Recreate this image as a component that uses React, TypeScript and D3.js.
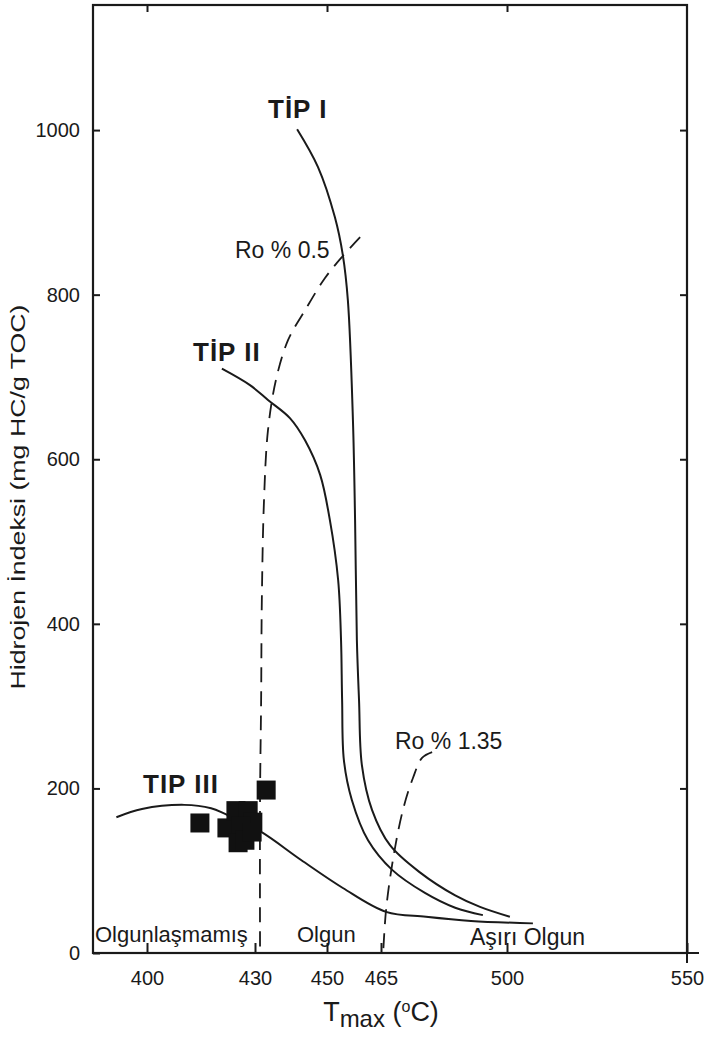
import React, { useEffect, useRef } from 'react';
import * as d3 from 'd3';

// axis ticks
const xTicks = [400, 430, 450, 465, 500, 550];
const yTicks = [0, 200, 400, 600, 800, 1000];
const topTicks = [400, 450, 500];
const rightTicks = [200, 400, 600, 800, 1000];

// kerogen type curves: [Tmax, HI]
const typeI: [number, number][] = [
  [441.7, 1001], [447.5, 955], [452.2, 894], [454.4, 848], [455.8, 793],
  [457.2, 648], [457.8, 526], [458.3, 380], [458.9, 307], [459.7, 228],
  [462.5, 174], [467.5, 131], [475.8, 98], [485.6, 70], [492.5, 56], [500.8, 44],
];
const typeII: [number, number][] = [
  [420.8, 710], [428.6, 690], [433.6, 672], [439.7, 650], [443.9, 623],
  [448.1, 581], [450.8, 526], [453.1, 453], [453.9, 380], [454.2, 307],
  [454.7, 234], [456.9, 186], [461.4, 137], [468.1, 101], [477.2, 73],
  [485.6, 55], [493.3, 46],
];
const typeIII: [number, number][] = [
  [391.5, 165], [398.6, 175], [410.3, 180], [417.8, 176], [421.7, 169],
  [431.4, 148], [442.8, 113], [454.4, 79], [466.4, 50], [477.5, 44],
  [490.0, 39], [507.2, 36],
];

// vitrinite reflectance iso-lines
const ro05: [number, number][] = [
  [459.2, 870], [454.4, 847], [449.4, 820], [443.9, 781], [439.2, 745],
  [435.8, 696], [433.6, 635], [432.5, 550], [431.9, 429], [431.7, 307],
  [431.4, 186], [431.4, 0],
];
const ro135: [number, number][] = [
  [479.2, 244], [476.4, 237], [473.9, 213], [471.1, 174], [468.3, 113],
  [466.4, 52], [465.6, 0],
];

// samples
const sampleTmax = [414.7, 433.1, 422.2, 424.7, 428.1, 429.4, 426.1, 425.3, 427.2, 429.2];
const sampleHI = [158, 198, 152, 173, 173, 159, 154, 134, 137, 147];

const font = "'Liberation Sans', Arial, Helvetica, sans-serif";
const ink = '#1a1a1a';

const App = () => {
  const ref = useRef<SVGSVGElement>(null);

  useEffect(() => {
    const svg = d3.select(ref.current);
    svg.selectAll('*').remove();

    const x = d3.scaleLinear().domain([385, 550]).range([93, 687]);
    const y = d3.scaleLinear().domain([0, 1152]).range([953, 5]);

    const g = svg.append('g').style('font-family', font);

    // left axis
    const left = g.append('g')
      .attr('transform', `translate(${x(385)},0)`)
      .call(d3.axisLeft(y).tickValues(yTicks).tickSize(-7).tickPadding(13).tickFormat(d3.format('d')));
    // bottom axis
    const bottom = g.append('g')
      .attr('transform', `translate(0,${y(0)})`)
      .call(d3.axisBottom(x).tickValues(xTicks).tickSize(-10).tickPadding(18).tickFormat(d3.format('d')));
    [left, bottom].forEach(a => {
      a.select('.domain').remove();
      a.selectAll('line').attr('stroke', ink).attr('stroke-width', 2);
      a.selectAll('text').attr('fill', ink).style('font-size', '20px').style('font-family', font);
    });
    // top & right inner ticks
    g.append('g')
      .attr('transform', `translate(0,${y(1152)})`)
      .call(d3.axisTop(x).tickValues(topTicks).tickSize(-7).tickFormat(() => ''))
      .call(a => a.select('.domain').remove())
      .selectAll('line').attr('stroke', ink).attr('stroke-width', 2);
    g.append('g')
      .attr('transform', `translate(${x(550)},0)`)
      .call(d3.axisRight(y).tickValues(rightTicks).tickSize(-7).tickFormat(() => ''))
      .call(a => a.select('.domain').remove())
      .selectAll('line').attr('stroke', ink).attr('stroke-width', 2);

    // frame
    g.append('rect')
      .attr('x', x(385)).attr('y', y(1152))
      .attr('width', x(550) - x(385)).attr('height', y(0) - y(1152))
      .attr('fill', 'none').attr('stroke', ink).attr('stroke-width', 2.2);
    // outer stub of the 550 tick and axis overhang
    g.append('line')
      .attr('x1', x(550)).attr('x2', x(550)).attr('y1', y(0)).attr('y2', y(0) + 10)
      .attr('stroke', ink).attr('stroke-width', 2);
    g.append('line')
      .attr('x1', x(550)).attr('x2', x(550) + 12).attr('y1', y(0)).attr('y2', y(0))
      .attr('stroke', ink).attr('stroke-width', 2);

    const line = d3.line<[number, number]>()
      .x(d => x(d[0]))
      .y(d => y(d[1]))
      .curve(d3.curveCatmullRom.alpha(0.5));

    [typeI, typeII, typeIII].forEach(c => {
      g.append('path').attr('d', line(c)).attr('fill', 'none')
        .attr('stroke', ink).attr('stroke-width', 2);
    });
    [ro05, ro135].forEach(c => {
      g.append('path').attr('d', line(c)).attr('fill', 'none')
        .attr('stroke', ink).attr('stroke-width', 1.8).attr('stroke-dasharray', '15,9');
    });

    // samples
    const size = 19;
    g.selectAll('.sample')
      .data(sampleTmax.map((t, i) => [t, sampleHI[i]]))
      .enter()
      .append('rect')
      .attr('class', 'sample')
      .attr('x', d => x(d[0]) - size / 2)
      .attr('y', d => y(d[1]) - size / 2)
      .attr('width', size).attr('height', size)
      .attr('fill', '#111');

    // curve labels
    const bold = (tx: number, ty: number, s: string) =>
      g.append('text').attr('x', tx).attr('y', ty).attr('fill', ink)
        .style('font-size', '26px').style('font-weight', 'bold')
        .style('letter-spacing', '1px').text(s);
    bold(268, 118, 'TİP I');
    bold(193, 361, 'TİP II');
    bold(143, 793, 'TIP III');

    const plain = (tx: number, ty: number, s: string, size = 20) =>
      g.append('text').attr('x', tx).attr('y', ty).attr('fill', ink)
        .style('font-size', `${size}px`).text(s);
    plain(235, 258, 'Ro % 0.5', 23);
    plain(395, 749, 'Ro % 1.35', 23);
    plain(95, 942, 'Olgunlaşmamış', 22);
    plain(297, 942, 'Olgun', 22);
    plain(470, 945, 'Aşırı Olgun', 23);

    // axis titles
    const xt = g.append('text').attr('x', 381).attr('y', 1021)
      .attr('text-anchor', 'middle').attr('fill', ink).style('font-size', '27px');
    xt.append('tspan').text('T');
    xt.append('tspan').attr('dy', 6).style('font-size', '24px').text('max');
    xt.append('tspan').attr('dy', -6).text(' (');
    xt.append('tspan').attr('dy', -9).style('font-size', '16px').text('o');
    xt.append('tspan').attr('dy', 9).text('C)');

    g.append('text')
      .attr('transform', `translate(25,497) rotate(-90)`)
      .attr('text-anchor', 'middle').attr('fill', ink)
      .attr('textLength', 385).attr('lengthAdjust', 'spacingAndGlyphs')
      .style('font-size', '21px')
      .text('Hidrojen İndeksi (mg HC/g TOC)');
  }, []);

  return (
    <svg ref={ref} width={709} height={1038}
      style={{ position: 'absolute', left: 0, top: 0, background: '#fff' }} />
  );
};

export default App;
